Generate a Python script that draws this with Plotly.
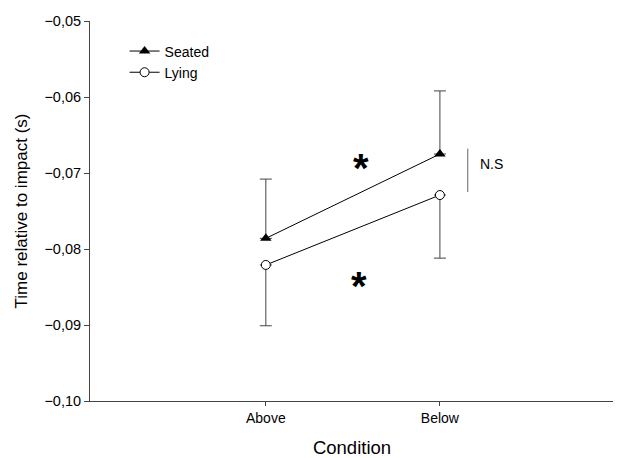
import plotly.graph_objects as go

conditions = ["Above", "Below"]
seated = [-0.0786, -0.0675]
seated_err_up = [0.0078, 0.0083]
lying = [-0.0821, -0.0729]
lying_err_down = [0.0080, 0.0083]

fig = go.Figure()
fig.add_trace(go.Scatter(
    x=[0, 1], y=seated, name="Seated", mode="lines+markers",
    line=dict(color="black", width=1),
    marker=dict(symbol="triangle-up", size=10, color="black"),
    error_y=dict(type="data", symmetric=False, array=seated_err_up,
                 arrayminus=[0, 0], color="#444", thickness=1, width=6),
))
fig.add_trace(go.Scatter(
    x=[0, 1], y=lying, name="Lying", mode="lines+markers",
    line=dict(color="black", width=1),
    marker=dict(symbol="circle", size=9, color="white",
                line=dict(color="black", width=1)),
    error_y=dict(type="data", symmetric=False, array=[0, 0],
                 arrayminus=lying_err_down, color="#444", thickness=1, width=6),
))

fig.add_annotation(x=0.545, y=-0.0693, text="<b>*</b>", showarrow=False,
                   font=dict(size=40, color="black", family="Liberation Sans"))
fig.add_annotation(x=0.535, y=-0.0849, text="<b>*</b>", showarrow=False,
                   font=dict(size=40, color="black", family="Liberation Sans"))
fig.add_shape(type="line", x0=1.16, x1=1.16, y0=-0.0668, y1=-0.0725,
              line=dict(color="#666", width=1))
fig.add_annotation(x=1.22, y=-0.0688, text="N.S", showarrow=False,
                   xanchor="left", font=dict(size=14, color="black"))

fig.update_layout(
    width=613, height=450,
    margin=dict(l=82, r=7, t=13, b=57),
    paper_bgcolor="white", plot_bgcolor="white",
    separators=",.",
    font=dict(family="Liberation Sans, Arial", color="black", size=14),
    showlegend=True,
    legend=dict(x=0.066, y=0.962, xanchor="left", yanchor="top",
                bgcolor="rgba(0,0,0,0)", font=dict(size=14),
                tracegroupgap=0, itemwidth=30),
    xaxis=dict(range=[-1.01, 2.0], tickvals=[0, 1], ticktext=conditions,
               showline=True, linecolor="#444", linewidth=1,
               ticks="outside", ticklen=4, tickcolor="#444",
               showgrid=False, zeroline=False, tickfont=dict(size=14),
               automargin=False,
               title=dict(text="Condition", font=dict(size=18.5), standoff=16)),
    yaxis=dict(range=[-0.10, -0.05], dtick=0.01, tickformat=".2f",
               showline=True, linecolor="#444", linewidth=1,
               ticks="outside", ticklen=5, tickcolor="#444",
               showgrid=False, zeroline=False, tickfont=dict(size=14.5),
               automargin=False,
               title=dict(text="Time relative to impact (s)", font=dict(size=17), standoff=12)),
)

fig.write_html("out.html")
